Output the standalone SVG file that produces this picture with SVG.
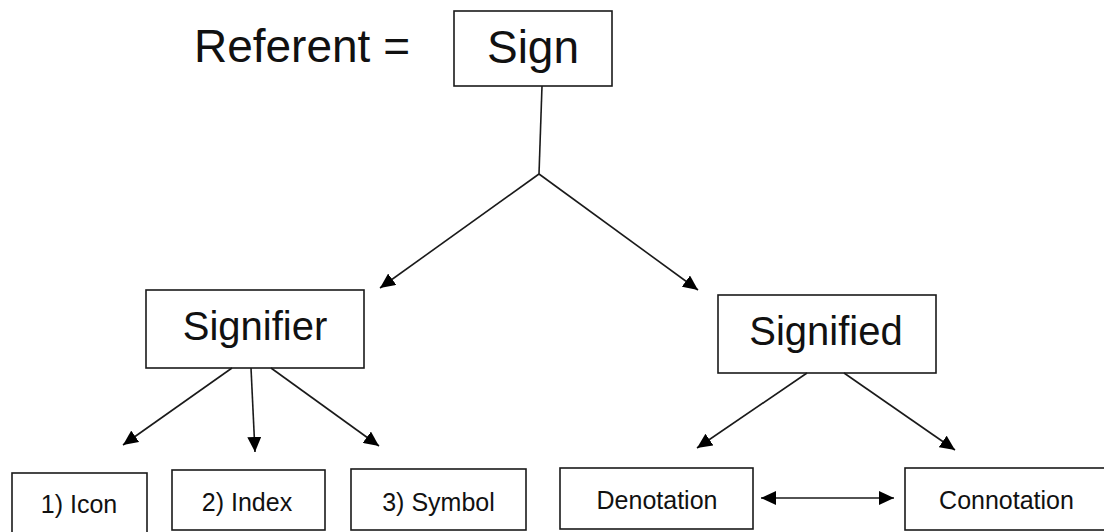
<svg xmlns="http://www.w3.org/2000/svg" width="1104" height="532" viewBox="0 0 1104 532">
  <style>
    .box { fill: #ffffff; stroke: #1a1a1a; stroke-width: 1.6; }
    .lbl { font-family: "Liberation Sans", Arial, sans-serif; fill: #111111; text-anchor: middle; }
    .big { font-size: 46px; }
    .mid { font-size: 40px; }
    .sm { font-size: 25px; }
    .conn { stroke: #1a1a1a; stroke-width: 1.6; fill: none; }
  </style>
  <defs>
    <marker id="arr" markerUnits="userSpaceOnUse" markerWidth="16" markerHeight="14" refX="15" refY="7" orient="auto-start-reverse">
      <path d="M0,0 L15,7 L0,14 z" fill="#000000"/>
    </marker>
  </defs>
  <rect width="1104" height="532" fill="#ffffff"/>

  <text class="lbl big" x="302" y="62">Referent =</text>

  <g id="node-sign">
    <rect class="box" x="454" y="11" width="158" height="75"/>
    <text class="lbl big" x="533" y="63">Sign</text>
  </g>
  <g id="node-signifier">
    <rect class="box" x="146" y="290" width="218" height="78"/>
    <text class="lbl mid" x="255" y="340">Signifier</text>
  </g>
  <g id="node-signified">
    <rect class="box" x="718" y="295" width="218" height="78"/>
    <text class="lbl mid" x="826" y="345">Signified</text>
  </g>
  <g id="node-icon">
    <rect class="box" x="12" y="473" width="135" height="70"/>
    <text class="lbl sm" x="79" y="513">1) Icon</text>
  </g>
  <g id="node-index">
    <rect class="box" x="172" y="470" width="153" height="60"/>
    <text class="lbl sm" x="247" y="511">2) Index</text>
  </g>
  <g id="node-symbol">
    <rect class="box" x="351" y="469" width="175" height="61"/>
    <text class="lbl sm" x="438.5" y="511">3) Symbol</text>
  </g>
  <g id="node-denotation">
    <rect class="box" x="560" y="468" width="193" height="61"/>
    <text class="lbl sm" x="657" y="509">Denotation</text>
  </g>
  <g id="node-connotation">
    <rect class="box" x="905" y="468" width="210" height="62"/>
    <text class="lbl sm" x="1006.5" y="509">Connotation</text>
  </g>

  <g id="connectors">
    <line class="conn" x1="542" y1="86" x2="539" y2="174"/>
    <line class="conn" x1="539" y1="174" x2="380" y2="288" marker-end="url(#arr)"/>
    <line class="conn" x1="539" y1="174" x2="698" y2="290" marker-end="url(#arr)"/>
    <line class="conn" x1="232" y1="368" x2="123" y2="445" marker-end="url(#arr)"/>
    <line class="conn" x1="251" y1="368" x2="255" y2="452" marker-end="url(#arr)"/>
    <line class="conn" x1="271" y1="368" x2="379" y2="446" marker-end="url(#arr)"/>
    <line class="conn" x1="807" y1="373" x2="697" y2="448" marker-end="url(#arr)"/>
    <line class="conn" x1="844" y1="373" x2="955" y2="450" marker-end="url(#arr)"/>
    <line class="conn" x1="761" y1="498" x2="894" y2="498" marker-start="url(#arr)" marker-end="url(#arr)"/>
  </g>
</svg>
